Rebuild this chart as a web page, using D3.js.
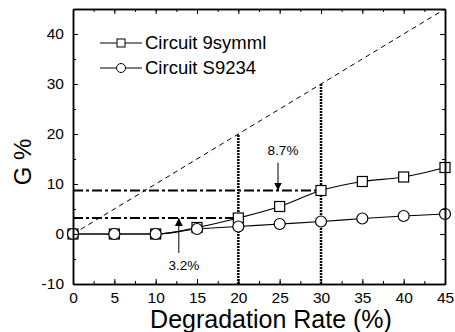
<!DOCTYPE html>
<html>
<head>
<meta charset="utf-8">
<script src="https://cdn.jsdelivr.net/npm/d3@7"></script>
<style>
  body { margin: 0; background: #fff; }
  text { font-family: Arial, "Liberation Sans", sans-serif; }
</style>
</head>
<body>
<div id="chart-area"></div>
<script>
// data
var rates = [0, 5, 10, 15, 20, 25, 30, 35, 40, 45];
var symml = [0, 0, 0, 1.3, 3.2, 5.5, 8.7, 10.5, 11.4, 13.3];
var s9234 = [0, 0, 0, 1.0, 1.5, 2.0, 2.5, 3.1, 3.6, 4.0];
var xTicks = [0, 5, 10, 15, 20, 25, 30, 35, 40, 45];
var yTicks = [-10, 0, 10, 20, 30, 40];
var guides = [{x: 20, y: 3.2}, {x: 30, y: 8.7}];

var svg = d3.select("#chart-area").append("svg")
    .attr("width", 455)
    .attr("height", 332);

var pLeft = 73, pRight = 445, pTop = 9, pBottom = 284;

var x = d3.scaleLinear().domain([0, 45]).range([pLeft, pRight]);
var y = d3.scaleLinear().domain([-10, 45]).range([pBottom, pTop]);

// diagonal reference line
svg.append("line")
    .attr("x1", x(0)).attr("y1", y(0))
    .attr("x2", x(45)).attr("y2", y(45))
    .attr("stroke", "#000").attr("stroke-width", 1)
    .attr("stroke-dasharray", "5,4");

// vertical dotted lines up to the diagonal
svg.selectAll(".vguide")
    .data(guides)
    .enter()
    .append("line")
    .attr("class", "vguide")
    .attr("x1", function(d) {return x(d.x);})
    .attr("x2", function(d) {return x(d.x);})
    .attr("y1", y(-10))
    .attr("y2", function(d) {return y(d.x);})
    .attr("stroke", "#000").attr("stroke-width", 2.5)
    .attr("stroke-dasharray", "2,1");

// horizontal dash-dot lines
svg.selectAll(".hguide")
    .data(guides)
    .enter()
    .append("line")
    .attr("class", "hguide")
    .attr("x1", x(0))
    .attr("x2", function(d) {return x(d.x);})
    .attr("y1", function(d) {return y(d.y);})
    .attr("y2", function(d) {return y(d.y);})
    .attr("stroke", "#000").attr("stroke-width", 2)
    .attr("stroke-dasharray", "10,3,3,3");

// series lines
var line = d3.line()
    .x(function(d, i) {return x(rates[i]);})
    .y(function(d) {return y(d);})
    .curve(d3.curveMonotoneX);

[symml, s9234].forEach(function(s) {
    svg.append("path")
        .attr("d", line(s))
        .attr("fill", "none")
        .attr("stroke", "#000")
        .attr("stroke-width", 1.2);
});

// markers
svg.selectAll(".sq")
    .data(symml)
    .enter()
    .append("rect")
    .attr("class", "sq")
    .attr("x", function(d, i) {return x(rates[i]) - 5;})
    .attr("y", function(d) {return y(d) - 5;})
    .attr("width", 10).attr("height", 10)
    .attr("fill", "#fff").attr("stroke", "#000").attr("stroke-width", 1.2);

svg.selectAll(".ci")
    .data(s9234)
    .enter()
    .append("circle")
    .attr("class", "ci")
    .attr("cx", function(d, i) {return x(rates[i]);})
    .attr("cy", function(d) {return y(d);})
    .attr("r", 5.5)
    .attr("fill", "#fff").attr("stroke", "#000").attr("stroke-width", 1.2);

// axes with inward ticks
var fmt = function(d) {return String(d);};
function drawAxis(axis, tx, ty, labels) {
    var g = svg.append("g").attr("transform", "translate(" + tx + "," + ty + ")").call(axis);
    g.select(".domain").attr("stroke-width", 1.5);
    g.selectAll("text").style("font-size", "15.5px");
    if (!labels) g.selectAll("text").remove();
    return g;
}

var xMinor = d3.range(0, 45.1, 2.5);
var yMinor = d3.range(-10, 45.1, 5);

drawAxis(d3.axisBottom(x).tickValues(xMinor).tickSize(-3).tickSizeOuter(0).tickFormat(""), 0, pBottom, false);
drawAxis(d3.axisBottom(x).tickValues(xTicks).tickSize(-5).tickSizeOuter(0).tickPadding(8).tickFormat(fmt), 0, pBottom, true);
drawAxis(d3.axisTop(x).tickValues(xMinor).tickSize(-3).tickSizeOuter(0).tickFormat(""), 0, pTop, false);
drawAxis(d3.axisTop(x).tickValues(xTicks).tickSize(-5).tickSizeOuter(0).tickFormat(""), 0, pTop, false);
drawAxis(d3.axisLeft(y).tickValues(yMinor).tickSize(-3).tickSizeOuter(0).tickFormat(""), pLeft, 0, false);
drawAxis(d3.axisLeft(y).tickValues(yTicks).tickSize(-5).tickSizeOuter(0).tickPadding(9).tickFormat(fmt), pLeft, 0, true);
drawAxis(d3.axisRight(y).tickValues(yMinor).tickSize(-3).tickSizeOuter(0).tickFormat(""), pRight, 0, false);
drawAxis(d3.axisRight(y).tickValues(yTicks).tickSize(-5).tickSizeOuter(0).tickFormat(""), pRight, 0, false);

// axis titles
svg.append("text")
    .attr("x", 271).attr("y", 328)
    .attr("text-anchor", "middle")
    .style("font-size", "25px")
    .text("Degradation Rate (%)");

svg.append("text")
    .attr("transform", "translate(31,162) rotate(-90)")
    .attr("text-anchor", "middle")
    .style("font-size", "24px")
    .text("G %");

// arrows with labels
svg.append("defs").append("marker")
    .attr("id", "head")
    .attr("viewBox", "0 0 10 10")
    .attr("refX", 10).attr("refY", 5)
    .attr("markerWidth", 8).attr("markerHeight", 8)
    .attr("markerUnits", "userSpaceOnUse")
    .attr("orient", "auto")
    .append("path").attr("d", "M0,0L10,5L0,10Z").attr("fill", "#000");

var notes = [
    {label: "8.7%", x: 24.8, from: 14.3, to: 8.7, ty: 155},
    {label: "3.2%", x: 12.8, from: -3.8, to: 3.2, ty: 270}
];

svg.selectAll(".arrow")
    .data(notes)
    .enter()
    .append("line")
    .attr("class", "arrow")
    .attr("x1", function(d) {return x(d.x);})
    .attr("x2", function(d) {return x(d.x);})
    .attr("y1", function(d) {return y(d.from);})
    .attr("y2", function(d) {return y(d.to);})
    .attr("stroke", "#000").attr("stroke-width", 1)
    .attr("marker-end", "url(#head)");

svg.selectAll(".note")
    .data(notes)
    .enter()
    .append("text")
    .attr("class", "note")
    .attr("x", function(d) {return x(d.x) + 5;})
    .attr("y", function(d) {return d.ty;})
    .attr("text-anchor", "middle")
    .style("font-size", "13.5px")
    .text(function(d) {return d.label;});

// legend
var legend = [{name: "Circuit 9symml", shape: "sq"}, {name: "Circuit S9234", shape: "ci"}];
legend.forEach(function(d, i) {
    var ly = 43 + i * 25;
    svg.append("line")
        .attr("x1", 100).attr("x2", 142)
        .attr("y1", ly).attr("y2", ly)
        .attr("stroke", "#000").attr("stroke-width", 1.2);
    if (d.shape == "sq") {
        svg.append("rect").attr("x", 117).attr("y", ly - 4).attr("width", 8).attr("height", 8)
            .attr("fill", "#fff").attr("stroke", "#000");
    } else {
        svg.append("circle").attr("cx", 121).attr("cy", ly).attr("r", 4.5)
            .attr("fill", "#fff").attr("stroke", "#000");
    }
    svg.append("text")
        .attr("x", 145).attr("y", ly + 6)
        .style("font-size", "18.5px")
        .text(d.name);
});
</script>
</body>
</html>
